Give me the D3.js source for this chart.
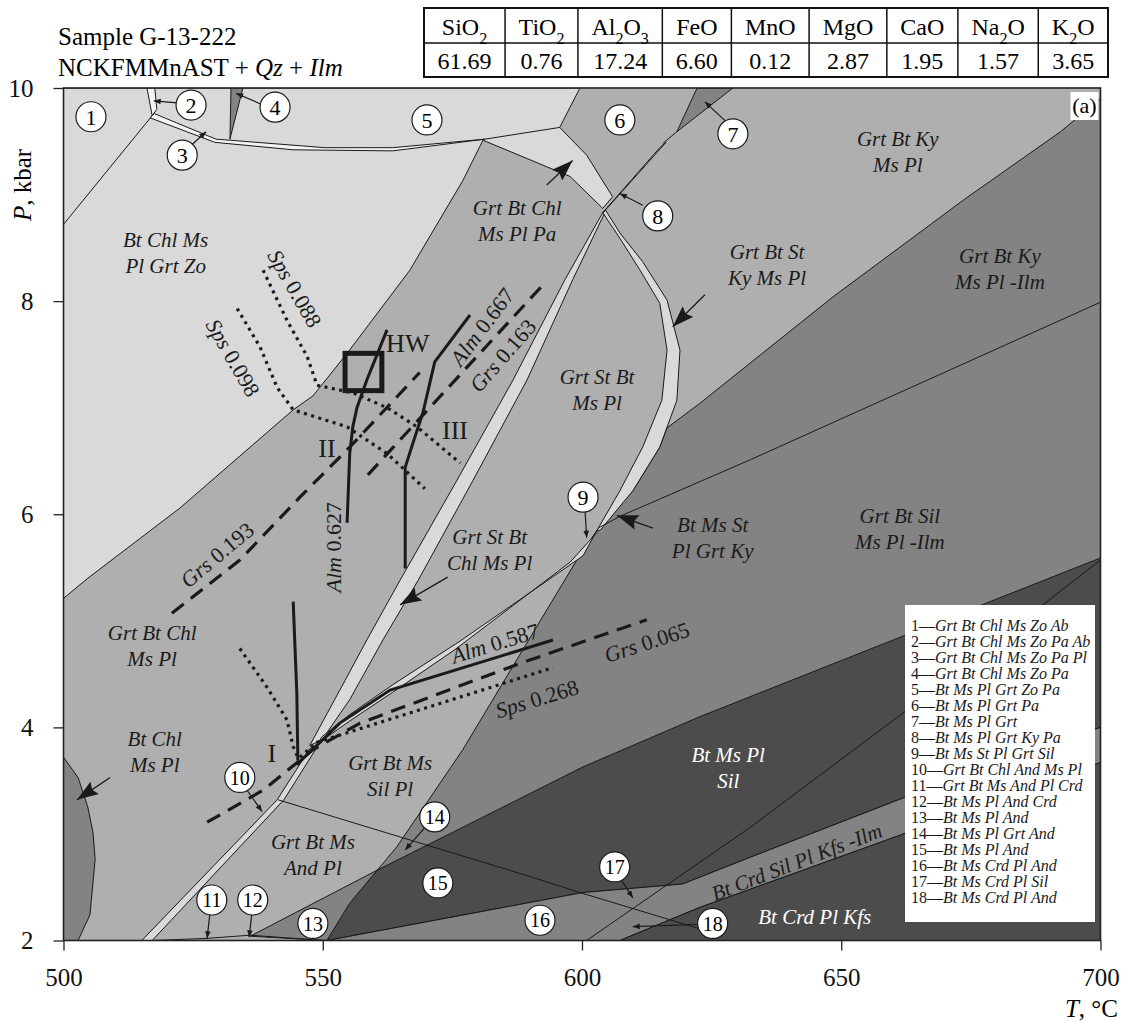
<!DOCTYPE html>
<html>
<head>
<meta charset="utf-8">
<script src="https://d3js.org/d3.v7.min.js"></script>
<style>
body{margin:0;background:#fff;}
text{font-family:"Liberation Serif","Times New Roman",serif;}
</style>
</head>
<body>
<script>
var W=1122, H=1022;

// axes
var xTicks=[500,550,600,650,700];
var yTicks=[2,4,6,8,10];

// bulk composition
var oxides=["SiO2","TiO2","Al2O3","FeO","MnO","MgO","CaO","Na2O","K2O"];
var oxideWt=["61.69","0.76","17.24","6.60","0.12","2.87","1.95","1.57","3.65"];

// fields, [T degC, P kbar]
var upperLight=[[500,10],[599.6,10],[595.7,9.63],[600.9,9.37],[605.9,8.98],[604.0,8.87],[597.7,9.17],[580.9,9.51],[577.0,9.13],[566.8,8.29],[554.7,7.51],[548.1,7.11],[544.3,6.98],[522.5,6.06],[504.7,5.40],[500,5.21]];
var field2=[[516.1,10],[517.6,10],[518.0,9.80],[517.1,9.74]];
var field3=[[517.5,9.76],[529.4,9.52],[550.4,9.44],[563.5,9.44],[581.3,9.52],[563.5,9.41],[544.3,9.42],[529.2,9.49],[516.7,9.72]];
var field4=[[532.3,10],[534.6,10],[532.1,9.52]];
var field7=[[622.2,10],[629.1,10],[618.3,9.59]];
var fieldIlmOut=[[550.8,2],[555.2,2.35],[564.3,2.88],[577.0,3.79],[588.6,4.73],[599.0,5.57],[602.9,5.85],[609.8,6.22],[615.0,6.63],[616.4,6.81],[622.7,7.04],[648.4,8.04],[673.6,8.95],[692.3,9.59],[700,9.90],[700,2]];
var field13=[[536.0,2.04],[560.5,2.66],[550.8,2]];
var fieldSil=[[550.8,2],[555.2,2.35],[560.5,2.66],[590.0,3.38],[600.2,3.63],[622.7,4.10],[662.6,4.87],[700,5.59],[700,4.00],[662.6,3.35],[632.4,2.78],[619.4,2.53],[600.2,2.45]];
var fieldCrd=[[550.8,2],[600.2,2.45],[619.4,2.53],[632.4,2.78],[662.6,3.35],[700,4.00],[700,3.67],[662.6,3.01],[622.7,2.31],[607.3,2]];
var fieldKfs=[[607.3,2],[622.7,2.31],[662.6,3.01],[700,3.67],[700,2]];
var fieldChlLow=[[500,3.72],[502.8,3.53],[504.7,3.25],[505.7,3.01],[506.1,2.76],[505.1,2.24],[502.8,2],[500,2]];

// narrow fields
var stripWide=[[547.5,3.83],[554.3,4.44],[558.5,4.82],[564.9,5.38],[575.9,6.32],[586.7,7.26],[596.7,8.20],[604.0,8.83],[604.4,8.83],[598.2,8.20],[589.4,7.26],[579.0,6.32],[568.4,5.38],[561.6,4.82],[555.2,4.26],[549.8,3.88]];
var stripLow=[[515.1,2],[541.2,3.32],[547.5,3.80],[549.1,3.83],[542.5,3.32],[517.1,2]];
var stripThin=[[549.8,3.91],[555.2,4.12],[563.5,4.40],[576.5,4.81],[600.2,5.61],[602.9,5.85],[602.9,5.83],[597.7,5.55],[575.5,4.73],[563.5,4.33],[555.2,4.06],[549.1,3.85]];
var stripCurved=[[604.0,8.83],[607.3,8.59],[611.2,8.29],[615.0,7.98],[616.4,7.54],[615.4,7.07],[611.7,6.63],[607.3,6.22],[602.9,5.85],[603.5,5.85],[609.8,6.22],[615.0,6.63],[618.3,7.07],[618.9,7.54],[616.4,8.01],[611.7,8.37],[607.3,8.64],[604.6,8.85]];
var strip8=[[604.0,8.83],[615.0,9.44],[616.2,9.49],[605.0,8.88]];

// extra boundaries
var bounds=[
  [[500,8.72],[517.1,9.74]],
  [[581.3,9.52],[595.7,9.63]],
  [[615.6,9.48],[618.3,9.59]],
  [[700,7.99],[632.4,6.51],[607.3,5.98],[603.1,5.87]],
  [[600.9,2],[632.4,3.06],[662.6,4.16],[700,5.57]],
  [[541.4,3.32],[590.0,2.60],[599.6,2.45],[622.7,2.11]],
  [[517.1,2],[527.7,2.02],[536.0,2.05],[550.0,2]]
];

// isopleths
var sps088=[[538.5,8.29],[543.1,7.82],[547.0,7.48],[548.9,7.21],[555.8,7.14],[562.4,7.00],[568.2,6.82],[576.5,6.48]];
var sps098=[[533.5,7.93],[537.9,7.57],[541.2,7.19],[544.3,6.98],[554.7,6.82],[562.4,6.57],[569.7,6.24]];
var spsI=[[534.0,4.74],[539.2,4.38],[543.1,4.07],[544.3,3.82],[545.2,3.72]];
var sps268=[[545.6,3.72],[548.9,3.86],[594.4,4.56]];
var grs193=[[520.9,5.07],[534.0,5.57],[545.6,6.16],[555.2,6.63],[568.7,7.33]];
var grs163=[[558.7,6.37],[592.8,8.17]];
var grs065=[[527.7,3.11],[538.5,3.41],[548.1,3.79],[557.2,4.04],[588.6,4.61],[612.5,5.01]];
var almI=[[544.3,5.18],[545.0,4.32],[545.2,3.69]];
var alm627=[[562.4,7.73],[558.5,7.26],[556.6,7.00],[555.8,6.82],[555.2,6.57],[554.7,5.92]];
var alm667=[[578.4,7.87],[571.6,7.43],[569.3,6.95],[567.4,6.67],[565.9,6.44],[565.9,5.49]];
var alm587=[[545.0,3.65],[553.3,4.04],[563.0,4.35],[594.4,4.82]];
var hwBox=[[554.3,7.51],[561.4,7.16]];

var isoLabels=[
  {name:"Sps",val:"0.088",t:544.6,p:8.12,rot:60},
  {name:"Sps",val:"0.098",t:532.7,p:7.47,rot:60},
  {name:"Grs",val:"0.193",t:529.6,p:5.62,rot:-40},
  {name:"Grs",val:"0.163",t:584.7,p:7.49,rot:-49},
  {name:"Alm",val:"0.667",t:580.7,p:7.76,rot:-53},
  {name:"Alm",val:"0.627",t:552.0,p:5.69,rot:-90},
  {name:"Alm",val:"0.587",t:583.2,p:4.79,rot:-17},
  {name:"Grs",val:"0.065",t:612.5,p:4.80,rot:-18},
  {name:"Sps",val:"0.268",t:591.3,p:4.27,rot:-17}
];
var stageLabels=[["I",540.2,3.76],["II",550.8,6.62],["III",575.5,6.79],["HW",566.4,7.61]];

var fieldLabels=[
  [["Bt Chl Ms","Pl Grt Zo"],519.7,8.45,0],
  [["Grt Bt Chl","Ms Pl Pa"],587.5,8.75,0],
  [["Grt Bt Ky","Ms Pl"],660.9,9.40,0],
  [["Grt Bt St","Ky Ms Pl"],635.7,8.34,0],
  [["Grt Bt Ky","Ms Pl -Ilm"],680.6,8.30,0],
  [["Grt St Bt","Ms Pl"],602.9,7.17,0],
  [["Grt St Bt","Chl Ms Pl"],582.2,5.66,0],
  [["Bt Ms St","Pl Grt Ky"],625.2,5.78,0],
  [["Grt Bt Sil","Ms Pl -Ilm"],661.3,5.86,0],
  [["Grt Bt Chl","Ms Pl"],517.1,4.76,0],
  [["Bt Chl","Ms Pl"],517.6,3.77,0],
  [["Grt Bt Ms","Sil Pl"],563.0,3.54,0],
  [["Grt Bt Ms","And Pl"],548.1,2.80,0],
  [["Bt Ms Pl","Sil"],628.2,3.62,1],
  [["Bt Crd Pl Kfs"],644.9,2.22,1]
];
var stripLabel={text:"Bt Crd Sil Pl Kfs -Ilm",t:641.4,p:2.74,rot:-21};

var circleNo=[1,2,3,4,5,6,7,8,9,10,11,12,13,14,15,16,17,18];
var circleAt=[[505.3,9.73],[524.6,9.84],[522.9,9.37],[540.8,9.82],[570.1,9.70],[607.3,9.70],[629.1,9.57],[614.6,8.80],[600.2,6.16],[534.0,3.53],[528.6,2.38],[536.5,2.38],[548.1,2.16],[571.6,3.16],[572.2,2.54],[591.9,2.19],[606.3,2.69],[625.2,2.16]];
var smallArrows=[
  [[521.9,9.86],[517.4,9.88]],[[524.8,9.47],[527.5,9.59]],[[538.5,9.84],[533.3,9.95]],
  [[628.1,9.67],[623.7,9.87]],[[611.7,8.90],[607.3,9.01]],[[600.6,6.02],[600.9,5.78]],
  [[535.4,3.41],[538.3,3.21]],[[528.2,2.24],[527.7,2.02]],[[536.3,2.24],[535.8,2.03]],
  [[569.7,3.06],[565.9,2.85]],[[607.7,2.56],[609.8,2.40]],[[622.3,2.15],[609.8,2.13]]
];
var bigArrows=[
  [[593.2,9.09],[598.2,9.32]],[[623.7,8.06],[617.5,7.76]],[[613.7,5.87],[606.7,5.99]],
  [[574.1,5.41],[564.9,5.15]],[[509.0,3.53],[502.6,3.32]]
];

var legendNo=["1","2","3","4","5","6","7","8","9","10","11","12","13","14","15","16","17","18"];
var legendText=["Grt Bt Chl Ms Zo Ab","Grt Bt Chl Ms Zo Pa Ab","Grt Bt Chl Ms Zo Pa Pl","Grt Bt Chl Ms Zo Pa","Bt Ms Pl Grt Zo Pa","Bt Ms Pl Grt Pa","Bt Ms Pl Grt","Bt Ms Pl Grt Ky Pa","Bt Ms St Pl Grt Sil","Grt Bt Chl And Ms Pl","Grt Bt Ms And Pl Crd","Bt Ms Pl And Crd","Bt Ms Pl And","Bt Ms Pl Grt And","Bt Ms Pl And","Bt Ms Crd Pl And","Bt Ms Crd Pl Sil","Bt Ms Crd Pl And"];

var C={light:"#d9d9d9",white:"#f3f3f3",mid:"#afafaf",dark:"#838383",deep:"#4c4c4c",ink:"#1a1a1a"};

var x=d3.scaleLinear().domain([500,700]).range([63.5,1100.5]);
var y=d3.scaleLinear().domain([2,10]).range([940.5,88]);
var line=d3.line().x(function(d){return x(d[0]);}).y(function(d){return y(d[1]);});

var svg=d3.select('body').append('svg').attr('width',W).attr('height',H);
var defs=svg.append('defs');
defs.append('clipPath').attr('id','plot').append('rect')
  .attr('x',x(500)).attr('y',y(10)).attr('width',x(700)-x(500)).attr('height',y(2)-y(10));
defs.append('marker').attr('id','ah').attr('viewBox','0 0 10 10').attr('refX',10).attr('refY',5)
  .attr('markerWidth',8).attr('markerHeight',7).attr('markerUnits','userSpaceOnUse').attr('orient','auto')
  .append('path').attr('d','M0,1L10,5L0,9Z').attr('fill',C.ink);
defs.append('marker').attr('id','ahBig').attr('viewBox','0 0 20 14').attr('refX',20).attr('refY',7)
  .attr('markerWidth',22).attr('markerHeight',15).attr('markerUnits','userSpaceOnUse').attr('orient','auto')
  .append('path').attr('d','M0,0L20,7L0,14L3,7Z').attr('fill',C.ink);

var g=svg.append('g').attr('clip-path','url(#plot)');
g.append('rect').attr('x',x(500)).attr('y',y(10)).attr('width',x(700)-x(500)).attr('height',y(2)-y(10)).attr('fill',C.mid);

function poly(pts,fill){
  g.append('path').attr('d',line(pts)+'Z').attr('fill',fill).attr('stroke',C.ink).attr('stroke-width',1).attr('stroke-linejoin','round');
}
poly(upperLight,C.light);
poly(field2,C.white);
poly(field3,C.white);
poly(field4,C.dark);
poly(field7,C.dark);
poly(fieldIlmOut,C.dark);
poly(field13,C.dark);
poly(fieldSil,C.deep);
poly(fieldCrd,C.dark);
poly(fieldKfs,C.deep);
poly(fieldChlLow,C.dark);
poly(stripWide,C.light);
poly(stripLow,C.light);
poly(stripThin,C.light);
poly(stripCurved,C.light);
poly(strip8,C.light);

bounds.forEach(function(b){
  g.append('path').attr('d',line(b)).attr('fill','none').attr('stroke',C.ink).attr('stroke-width',1);
});

// isopleths
function iso(pts,kind){
  var p=g.append('path').attr('d',line(pts)).attr('fill','none').attr('stroke',C.ink);
  if(kind==='dot') p.attr('stroke-width',3.2).attr('stroke-dasharray','3,4.5');
  else if(kind==='dash') p.attr('stroke-width',3.2).attr('stroke-dasharray','15,9');
  else p.attr('stroke-width',3);
}
[sps088,sps098,spsI,sps268].forEach(function(s){iso(s,'dot');});
[grs193,grs163,grs065].forEach(function(s){iso(s,'dash');});
[almI,alm627,alm667,alm587].forEach(function(s){iso(s,'solid');});
g.append('rect').attr('x',x(hwBox[0][0])).attr('y',y(hwBox[0][1]))
  .attr('width',x(hwBox[1][0])-x(hwBox[0][0])).attr('height',y(hwBox[1][1])-y(hwBox[0][1]))
  .attr('fill','none').attr('stroke',C.ink).attr('stroke-width',5);

// arrows
smallArrows.forEach(function(a){
  svg.append('path').attr('d',line(a)).attr('stroke',C.ink).attr('stroke-width',1.2).attr('marker-end','url(#ah)');
});
bigArrows.forEach(function(a){
  svg.append('path').attr('d',line(a)).attr('stroke',C.ink).attr('stroke-width',1.3).attr('marker-end','url(#ahBig)');
});

// field labels
fieldLabels.forEach(function(f){
  var t=svg.append('text').attr('text-anchor','middle').attr('font-style','italic').attr('font-size',21)
    .attr('fill',f[3]?'#ffffff':C.ink);
  var n=f[0].length;
  f[0].forEach(function(s,i){
    t.append('tspan').attr('x',x(f[1])).attr('y',y(f[2])+7+(i-(n-1)/2)*26).text(s);
  });
});
svg.append('text').attr('transform','translate('+x(stripLabel.t)+','+y(stripLabel.p)+') rotate('+stripLabel.rot+')')
  .attr('text-anchor','middle').attr('dy','0.35em').attr('font-style','italic').attr('font-size',21).attr('fill',C.ink)
  .text(stripLabel.text);

isoLabels.forEach(function(l){
  var t=svg.append('text').attr('transform','translate('+x(l.t)+','+y(l.p)+') rotate('+l.rot+')')
    .attr('text-anchor','middle').attr('dy','0.35em').attr('font-size',22).attr('fill',C.ink);
  t.append('tspan').attr('font-style','italic').text(l.name);
  t.append('tspan').text(' '+l.val);
});
stageLabels.forEach(function(s){
  svg.append('text').attr('x',x(s[1])).attr('y',y(s[2])).attr('dy','0.35em').attr('text-anchor','middle')
    .attr('font-size',26).attr('fill',C.ink).text(s[0]);
});

// circled numbers
circleNo.forEach(function(n,i){
  var cx=x(circleAt[i][0]), cy=y(circleAt[i][1]);
  svg.append('circle').attr('cx',cx).attr('cy',cy).attr('r',15).attr('fill','#fff').attr('stroke',C.ink).attr('stroke-width',1.2);
  svg.append('text').attr('x',cx).attr('y',cy).attr('dy','0.36em').attr('text-anchor','middle').attr('font-size',n>9?20:22).text(n);
});

// legend box
var lg=svg.append('g');
lg.append('rect').attr('x',905).attr('y',605).attr('width',190).attr('height',317).attr('fill','#fff');
legendNo.forEach(function(n,i){
  var t=lg.append('text').attr('x',911).attr('y',631+i*16).attr('font-size',16).attr('fill',C.ink);
  t.append('tspan').text(n+'\u2014');
  t.append('tspan').attr('font-style','italic').text(legendText[i]);
});

// panel tag
svg.append('rect').attr('x',x(700)-30).attr('y',y(10)+4).attr('width',28).attr('height',28).attr('fill','#fff');
svg.append('text').attr('x',x(700)-16).attr('y',y(10)+25).attr('text-anchor','middle').attr('font-size',22).text('(a)');

// frame and axes
svg.append('rect').attr('x',x(500)).attr('y',y(10)).attr('width',x(700)-x(500)).attr('height',y(2)-y(10))
  .attr('fill','none').attr('stroke','#222').attr('stroke-width',1.6);
var xa=svg.append('g').attr('transform','translate(0,'+y(2)+')')
  .call(d3.axisBottom(x).tickValues(xTicks).tickSize(10).tickSizeOuter(0).tickPadding(12));
var ya=svg.append('g').attr('transform','translate('+x(500)+',0)')
  .call(d3.axisLeft(y).tickValues(yTicks).tickSize(10).tickSizeOuter(0).tickPadding(20));
[xa,ya].forEach(function(a){
  a.select('.domain').remove();
  a.selectAll('line').attr('stroke','#222').attr('stroke-width',1.3);
  a.selectAll('text').attr('font-size',25).attr('fill','#111').attr('font-family','"Liberation Serif",serif');
});
xa.selectAll('text').attr('dy','0.95em');

var yt=svg.append('text').attr('transform','translate(31,185) rotate(-90)').attr('text-anchor','middle').attr('font-size',25);
yt.append('tspan').attr('font-style','italic').text('P');
yt.append('tspan').text(', kbar');
var xt=svg.append('text').attr('x',1118).attr('y',1017).attr('text-anchor','end').attr('font-size',25);
xt.append('tspan').attr('font-style','italic').text('T');
xt.append('tspan').text(', \u00B0C');

// header
svg.append('text').attr('x',58).attr('y',45).attr('font-size',25).text('Sample G-13-222');
var h2=svg.append('text').attr('x',58).attr('y',76).attr('font-size',25);
h2.append('tspan').text('NCKFMMnAST + ');
h2.append('tspan').attr('font-style','italic').text('Qz');
h2.append('tspan').text(' + ');
h2.append('tspan').attr('font-style','italic').text('Ilm');

// oxide table
function chem(t,s){
  s.split(/(\d)/).forEach(function(p){
    if(!p) return;
    if(/\d/.test(p)) t.append('tspan').attr('font-size',16).attr('baseline-shift','sub').text(p);
    else t.append('tspan').text(p);
  });
}
var tb=svg.append('g');
var tx0=424, tx1=1108, ty=[8,43,77];
var widths=oxides.map(function(o,i){
  var a=tb.append('text').attr('font-size',24).attr('opacity',0); chem(a,o);
  var b=tb.append('text').attr('font-size',24).attr('opacity',0).text(oxideWt[i]);
  var w=Math.max(a.node().getComputedTextLength(),b.node().getComputedTextLength());
  a.remove(); b.remove(); return w;
});
var sumW=d3.sum(widths), pad=(tx1-tx0-sumW)/oxides.length;
var cx=tx0;
tb.append('rect').attr('x',tx0).attr('y',ty[0]).attr('width',tx1-tx0).attr('height',ty[2]-ty[0]).attr('fill','#fff').attr('stroke','#111').attr('stroke-width',2);
tb.append('line').attr('x1',tx0).attr('x2',tx1).attr('y1',ty[1]).attr('y2',ty[1]).attr('stroke','#111').attr('stroke-width',1.5);
oxides.forEach(function(o,i){
  var w=widths[i]+pad, mid=cx+w/2;
  var a=tb.append('text').attr('x',mid).attr('y',ty[0]+27).attr('text-anchor','middle').attr('font-size',24);
  chem(a,o);
  tb.append('text').attr('x',mid).attr('y',ty[1]+26).attr('text-anchor','middle').attr('font-size',24).text(oxideWt[i]);
  cx+=w;
  if(i<oxides.length-1) tb.append('line').attr('x1',cx).attr('x2',cx).attr('y1',ty[0]).attr('y2',ty[2]).attr('stroke','#111').attr('stroke-width',1.5);
});
</script>
</body>
</html>
